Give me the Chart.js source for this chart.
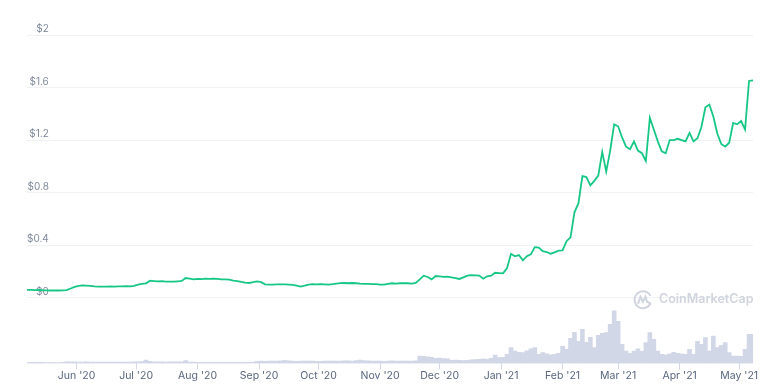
<!DOCTYPE html>
<html>
<head>
<meta charset="utf-8">
<script src="https://cdn.jsdelivr.net/npm/chart.js@4.4.0/dist/chart.umd.min.js"></script>
<style>
  html, body { margin: 0; padding: 0; background: #fff; }
  #wrap { width: 770px; height: 390px; position: relative; }
</style>
</head>
<body>
<div id="wrap"><canvas id="chart"></canvas></div>
<script>
"use strict";

// day 0 = 1 Jun 2020, one sample every 2 days
var startDay = -25;
var dayStep = 2;

var prices = [
  0.059, 0.059, 0.058, 0.059, 0.057, 0.056, 0.055, 0.056, 0.055, 0.056,
  0.058, 0.070, 0.082, 0.090, 0.094, 0.092, 0.090, 0.086, 0.084, 0.085,
  0.084, 0.086, 0.085, 0.087, 0.086, 0.088, 0.086, 0.090, 0.100, 0.105,
  0.110, 0.130, 0.127, 0.124, 0.126, 0.122, 0.123, 0.122, 0.125, 0.128,
  0.150, 0.145, 0.140, 0.143, 0.141, 0.145, 0.144, 0.145, 0.143, 0.140,
  0.139, 0.137, 0.130, 0.127, 0.120, 0.115, 0.112, 0.118, 0.125, 0.118,
  0.102, 0.099, 0.100, 0.102, 0.101, 0.102, 0.100, 0.097, 0.092, 0.085,
  0.092, 0.100, 0.104, 0.102, 0.104, 0.102, 0.100, 0.103, 0.108, 0.111,
  0.112, 0.110, 0.112, 0.110, 0.107, 0.106, 0.105, 0.104, 0.103, 0.100,
  0.099, 0.105, 0.110, 0.108, 0.110, 0.111, 0.110, 0.108, 0.112, 0.140,
  0.168, 0.158, 0.140, 0.165, 0.162, 0.158, 0.160, 0.155, 0.150, 0.143,
  0.155, 0.168, 0.172, 0.170, 0.168, 0.145, 0.163, 0.168, 0.190, 0.188,
  0.186, 0.225, 0.334, 0.315, 0.325, 0.285, 0.316, 0.330, 0.385, 0.382,
  0.354, 0.348, 0.335, 0.345, 0.358, 0.360, 0.430, 0.460, 0.650, 0.720,
  0.925, 0.918, 0.855, 0.890, 0.930, 1.110, 0.960, 1.120, 1.320, 1.305,
  1.220, 1.150, 1.130, 1.190, 1.120, 1.100, 1.040, 1.370, 1.280, 1.190,
  1.115, 1.100, 1.200, 1.200, 1.210, 1.200, 1.190, 1.255, 1.190, 1.214,
  1.300, 1.450, 1.470, 1.380, 1.250, 1.170, 1.150, 1.180, 1.330, 1.320,
  1.345, 1.280, 1.650, 1.654
];

// 24h volume, relative units
var volumes = [
  1, 1, 1, 1, 1, 0.8, 0.8, 0.8, 0.8, 1,
  1.5, 1.5, 1.5, 1.3, 1.3, 1.5, 1.3, 1.2, 1.3, 1.4,
  1.3, 1.3, 1.2, 1.3, 1.4, 1.3, 1.3, 1.5, 1.6, 1.8,
  3.3, 2, 1.6, 1.5, 1.5, 1.4, 1.5, 1.5, 1.5, 1.6,
  2.7, 1.3, 1.2, 1.1, 1, 1, 1, 1.1, 1, 1,
  1, 1.1, 1, 1, 1, 1, 1.1, 1.2, 2, 2.2,
  2.1, 2.3, 2.2, 2.4, 2.6, 3, 2.5, 2.2, 2.1, 2.2,
  2.3, 2.4, 2.2, 2.1, 2, 2.2, 2.3, 2.4, 2.2, 2.3,
  2.5, 2.6, 2.4, 2.7, 3.3, 2.8, 2.5, 2.3, 2.4, 2.2,
  2.1, 2.3, 2.5, 2.4, 2.3, 2.3, 2.2, 2.4, 2.6, 7.3,
  7, 6.5, 6, 5, 5.2, 4.8, 4.5, 3, 3.3, 3,
  2.7, 3, 3.5, 3.8, 4, 4.5, 4, 5, 8.3, 5.7,
  6, 9, 15.7, 12.3, 11, 10.7, 12.5, 14.5, 15.7, 9,
  10.7, 9.5, 8.5, 9, 10, 17, 14, 25, 31, 22,
  34, 21, 26, 15.7, 28, 30, 30.7, 39, 52.5, 42,
  19, 12.3, 10, 12.3, 14.5, 12, 20.7, 30.7, 24, 12.3,
  9, 8.5, 9.5, 11, 10, 9.5, 9, 14, 9, 22,
  19, 25.7, 12.3, 27.3, 15.7, 18, 20.7, 10.7, 7.3, 7.3,
  7, 14, 29, 29
];

var monthLabels = ["Jun '20", "Jul '20", "Aug '20", "Sep '20", "Oct '20", "Nov '20",
  "Dec '20", "Jan '21", "Feb '21", "Mar '21", "Apr '21", "May '21"];
var monthDays = [0, 30, 61, 92, 122, 153, 183, 214, 245, 273, 304, 334];

var priceTicks = [0, 0.4, 0.8, 1.2, 1.6, 2];

var green = "#16c784";

function toPoints(arr) {
  return arr.map(function(v, i) {
    return { x: startDay + i * dayStep, y: v };
  });
}

// faint CoinMarketCap mark behind the series
var watermark = {
  id: "watermark",
  beforeDatasetsDraw: function(chart) {
    var ctx = chart.ctx;
    var area = chart.chartArea;
    var cx = area.right - 110;
    var cy = chart.scales.y.getPixelForValue(0) + 2;
    ctx.save();
    ctx.strokeStyle = "#cfd4de";
    ctx.lineWidth = 2;
    ctx.beginPath();
    ctx.arc(cx, cy, 8.5, 0.15 * Math.PI, 1.85 * Math.PI, false);
    ctx.stroke();
    ctx.beginPath();
    ctx.moveTo(cx - 5, cy + 4);
    ctx.lineTo(cx - 2.5, cy - 3);
    ctx.lineTo(cx, cy + 2);
    ctx.lineTo(cx + 2.5, cy - 3);
    ctx.lineTo(cx + 4, cy + 2);
    ctx.lineTo(cx + 8, cy + 4);
    ctx.stroke();
    ctx.fillStyle = "#cfd4de";
    ctx.font = "600 12.5px Inter, 'Open Sans', sans-serif";
    ctx.textBaseline = "middle";
    ctx.fillText("CoinMarketCap", cx + 16, cy);
    ctx.restore();
  }
};

new Chart(document.getElementById("chart"), {
  data: {
    datasets: [{
      type: "line",
      label: "Price",
      data: toPoints(prices),
      yAxisID: "y",
      borderColor: green,
      borderWidth: 1.8,
      pointRadius: 0,
      tension: 0,
      order: 1
    }, {
      type: "bar",
      label: "Volume",
      data: toPoints(volumes),
      yAxisID: "vol",
      backgroundColor: "#d1d7e6",
      barPercentage: 1,
      categoryPercentage: 1,
      order: 2
    }]
  },
  options: {
    responsive: true,
    maintainAspectRatio: false,
    animation: false,
    layout: {
      padding: { left: 27, right: 17, top: 35, bottom: 8 }
    },
    plugins: {
      legend: { display: false },
      tooltip: { enabled: false }
    },
    scales: {
      x: {
        type: "linear",
        min: startDay,
        max: startDay + (prices.length - 1) * dayStep,
        offset: false,
        afterBuildTicks: function(scale) {
          scale.ticks = monthDays.map(function(d) { return { value: d }; });
        },
        grid: {
          offset: false,
          drawOnChartArea: false,
          drawTicks: true,
          tickLength: 6,
          color: "#d3d9e6"
        },
        border: { display: false },
        ticks: {
          autoSkip: false,
          maxRotation: 0,
          padding: 0,
          color: "#58667e",
          font: { family: "Inter", size: 10.5 },
          callback: function(value) {
            var k = monthDays.indexOf(value);
            return k >= 0 ? monthLabels[k] : "";
          }
        }
      },
      y: {
        position: "left",
        min: -0.5,
        max: 2,
        afterBuildTicks: function(scale) {
          scale.ticks = priceTicks.map(function(v) { return { value: v }; });
        },
        grid: {
          color: "#eff2f5",
          drawTicks: false
        },
        border: { display: false },
        ticks: {
          mirror: true,
          crossAlign: "far",
          padding: 0,
          labelOffset: -6,
          color: "#808a9d",
          font: { family: "Inter", size: 10 },
          callback: function(value) {
            return "$" + value;
          }
        }
      },
      vol: {
        position: "right",
        display: false,
        min: 0,
        max: Math.max.apply(null, volumes) * 6.24
      }
    }
  },
  plugins: [watermark]
});
</script>
</body>
</html>
